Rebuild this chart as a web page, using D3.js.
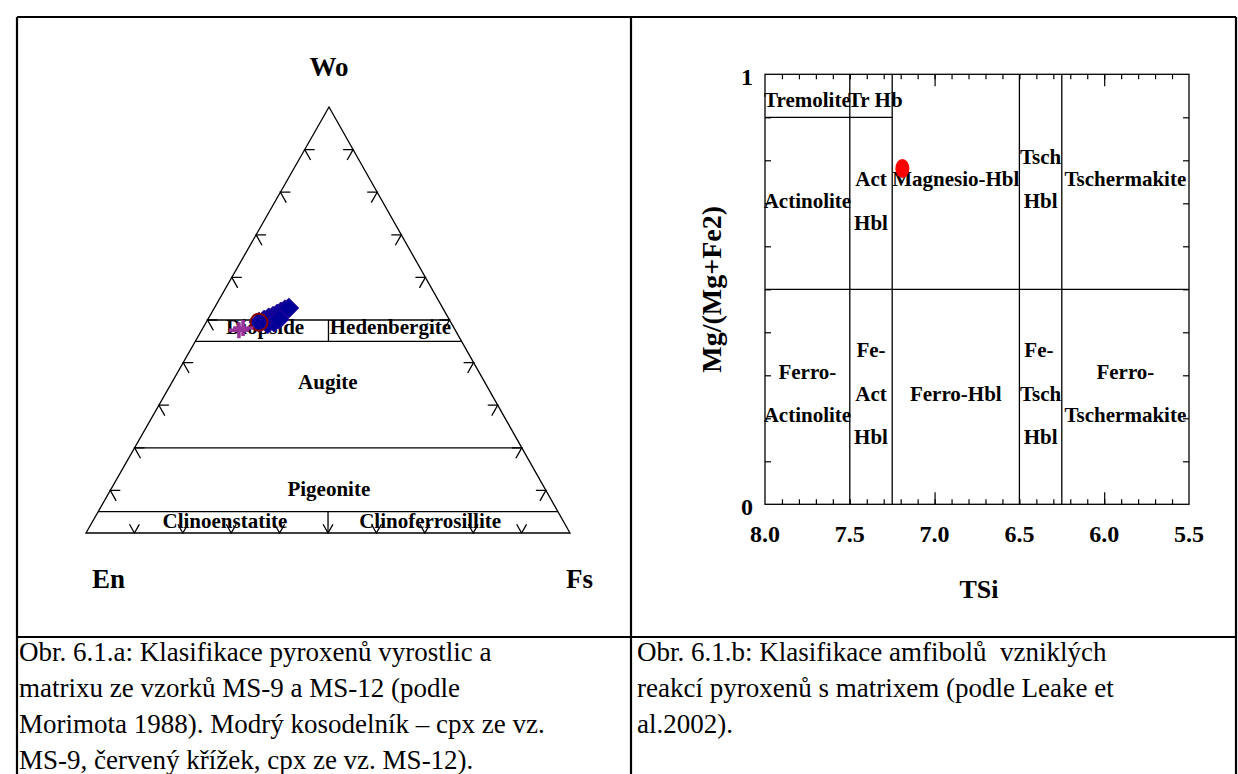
<!DOCTYPE html>
<html><head><meta charset="utf-8">
<script src="https://cdn.jsdelivr.net/npm/d3@7"></script>
<style>body{margin:0;background:#fff}svg{display:block}</style>
</head><body>
<svg id="c" width="1238" height="774"></svg>
<script>
// ---------------- DATA ----------------
// Pyroxene ternary (Morimoto 1988), values in % (Wo, En, Fs)
const cpxMS9Wo = [49.5, 50.0, 50.5, 50.9, 51.4, 51.9, 52.4, 52.8, 49.1, 49.5, 50.2];
const cpxMS9En = [39.6, 38.3, 37.1, 36.0, 34.9, 33.9, 32.8, 31.8, 38.0, 36.5, 35.1];
const cpxMS9Fs = [10.9, 11.7, 12.4, 13.1, 13.7, 14.2, 14.8, 15.4, 12.9, 14.0, 14.7];
const cpxMS12Wo = [47.6, 48.1];
const cpxMS12En = [44.7, 43.6];
const cpxMS12Fs = [7.7, 8.3];
const circleWo = [49.5], circleEn = [39.6], circleFs = [10.9];
const woBoundaries = [50, 45, 20, 5];
const ternTicks = [10, 20, 30, 40, 50, 60, 70, 80, 90];
const ternLabels = ["Diopside", "Hedenbergite", "Augite", "Pigeonite", "Clinoenstatite", "Clinoferrosillite"];
const ternLabelWo = [46.8, 46.8, 33.8, 8.7, 1.2, 1.2];
const ternLabelFs = [13.5, 39.4, 33.0, 45.8, 28.1, 70.5];

// Amphibole diagram (Leake et al. 2002)
const amphTSi = [7.19];
const amphMg = [0.781];
const xTickLabels = [8.0, 7.5, 7.0, 6.5, 6.0, 5.5];
const yTickLabels = [0, 1];
const tsiBoundaries = [7.5, 7.25, 6.5, 6.25];
const amphLabels = ["Tremolite", "Tr Hb", "Actinolite", "Act", "Hbl", "Magnesio-Hbl", "Tsch", "Hbl", "Tschermakite",
  "Ferro-", "Actinolite", "Fe-", "Act", "Hbl", "Ferro-Hbl", "Fe-", "Tsch", "Hbl", "Ferro-", "Tschermakite"];
const amphLabelX = [7.75, 7.35, 7.75, 7.375, 7.375, 6.875, 6.375, 6.375, 5.875,
  7.75, 7.75, 7.375, 7.375, 7.375, 6.875, 6.385, 6.375, 6.375, 5.875, 5.875];
const amphLabelY = [0.924, 0.924, 0.689, 0.740, 0.638, 0.740, 0.791, 0.689, 0.740,
  0.292, 0.191, 0.343, 0.240, 0.140, 0.240, 0.343, 0.240, 0.140, 0.292, 0.191];

const captionA = ["Obr. 6.1.a: Klasifikace pyroxenů vyrostlic a", "matrixu ze vzorků MS-9 a MS-12 (podle",
  "Morimota 1988). Modrý kosodelník – cpx ze vz.", "MS-9, červený křížek, cpx ze vz. MS-12)."];
const captionB = ["Obr. 6.1.b: Klasifikace amfibolů  vzniklých", "reakcí pyroxenů s matrixem (podle Leake et", "al.2002)."];

// ---------------- DRAW ----------------
const serif = "'Liberation Serif','Times New Roman',Times,serif";
const svg = d3.select("#c");
svg.append("rect").attr("width", 1238).attr("height", 774).attr("fill", "#fff");

// table frame
const tbl = svg.append("g").attr("stroke", "#000").attr("stroke-width", 2.2).attr("fill", "none");
tbl.append("line").attr("x1", 17).attr("y1", 17).attr("x2", 1236).attr("y2", 17);
tbl.append("line").attr("x1", 17).attr("y1", 17).attr("x2", 17).attr("y2", 780);
tbl.append("line").attr("x1", 1236).attr("y1", 17).attr("x2", 1236).attr("y2", 780);
tbl.append("line").attr("x1", 631).attr("y1", 17).attr("x2", 631).attr("y2", 780);
tbl.append("line").attr("x1", 17).attr("y1", 637).attr("x2", 1236).attr("y2", 637);

// ---- ternary ----
const tFs = d3.scaleLinear().domain([0, 100]).range([86, 570]);
const tWoX = d3.scaleLinear().domain([0, 100]).range([0, 243]);
const tWoY = d3.scaleLinear().domain([0, 100]).range([533, 107]);
function tp(wo, en, fs) { const s = (wo + en + fs) / 100; wo /= s; fs /= s; return [tFs(fs) + tWoX(wo), tWoY(wo)]; }
const PWo = tp(100, 0, 0), PEn = tp(0, 100, 0), PFs = tp(0, 0, 100);
function unit(a, b) { const dx = b[0] - a[0], dy = b[1] - a[1], l = Math.hypot(dx, dy); return [dx / l, dy / l]; }
const line = d3.line();
const tg = svg.append("g").attr("stroke", "#000").attr("stroke-width", 1.3).attr("fill", "none");
tg.append("path").attr("d", line([PEn, PFs, PWo]) + "Z");
woBoundaries.forEach(w => tg.append("path").attr("d", line([tp(w, 100 - w, 0), tp(w, 0, 100 - w)])));
// En = Fs dividers
tg.append("path").attr("d", line([tp(45, 27.5, 27.5), tp(50, 25, 25)]));
tg.append("path").attr("d", line([tp(0, 50, 50), tp(5, 47.5, 47.5)]));
// ticks
const dWoFs = unit(PWo, PFs), dWoEn = unit(PWo, PEn), dFsWo = unit(PFs, PWo), dEnWo = unit(PEn, PWo);
ternTicks.forEach(w => {
  const v = tp(w, 100 - w, 0);
  tg.append("path").attr("d", line([[v[0] + 10, v[1]], v, [v[0] + dWoFs[0] * 12, v[1] + dWoFs[1] * 12]]));
  const r = tp(w, 0, 100 - w);
  tg.append("path").attr("d", line([[r[0] - 10, r[1]], r, [r[0] + dWoEn[0] * 12, r[1] + dWoEn[1] * 12]]));
  const b = tp(0, 100 - w, w);
  tg.append("path").attr("d", line([[b[0] + dFsWo[0] * 10, b[1] + dFsWo[1] * 10], b, [b[0] + dEnWo[0] * 10, b[1] + dEnWo[1] * 10]]));
});
// labels
const tl = svg.append("g").attr("font-family", serif).attr("font-weight", "bold").attr("font-size", 21).attr("text-anchor", "middle");
ternLabels.forEach((t, i) => {
  const wo = ternLabelWo[i], fs = ternLabelFs[i];
  const p = tp(wo, 100 - wo - fs, fs);
  tl.append("text").attr("x", p[0]).attr("y", p[1]).text(t);
});
const vl = svg.append("g").attr("font-family", serif).attr("font-weight", "bold").attr("font-size", 27);
vl.append("text").attr("x", PWo[0]).attr("y", 76).attr("text-anchor", "middle").text("Wo");
vl.append("text").attr("x", 92).attr("y", 588).text("En");
vl.append("text").attr("x", 566).attr("y", 588).text("Fs");

// data points
const pts = svg.append("g");
cpxMS9Wo.forEach((w, i) => {
  const p = tp(w, cpxMS9En[i], cpxMS9Fs[i]), s = 10;
  pts.append("path").attr("d", line([[p[0], p[1] - s], [p[0] + s, p[1]], [p[0], p[1] + s], [p[0] - s, p[1]]]) + "Z")
    .attr("fill", "#000099").attr("stroke", "#330099").attr("stroke-width", 0.8);
});
circleWo.forEach((w, i) => {
  const p = tp(w, circleEn[i], circleFs[i]);
  pts.append("circle").attr("cx", p[0]).attr("cy", p[1]).attr("r", 8.5).attr("fill", "none").attr("stroke", "#8b0000").attr("stroke-width", 2);
});
cpxMS12Wo.forEach((w, i) => {
  const p = tp(w, cpxMS12En[i], cpxMS12Fs[i]);
  pts.append("path").attr("d", `M${p[0] - 10},${p[1]}H${p[0] + 10}M${p[0]},${p[1] - 8}V${p[1] + 8}`)
    .attr("stroke", "#993399").attr("stroke-width", 3.5).attr("fill", "none");
});

// ---- amphibole chart ----
const ax = d3.scaleLinear().domain([8.0, 5.5]).range([765, 1189]);
const ay = d3.scaleLinear().domain([0, 1]).range([504.3, 74.3]);
const ag = svg.append("g");
const minorX = d3.range(79, 55, -1).map(d => d / 10);
const majorX = [7.0, 6.0];
const yT = d3.range(1, 10).map(d => d / 10);
function axisG(gen, tr) {
  const g = ag.append("g").attr("transform", tr).call(gen);
  g.select(".domain").remove();
  g.selectAll("line").attr("stroke", "#000").attr("stroke-width", 1.2);
  g.selectAll("text").remove();
}
axisG(d3.axisTop(ax).tickValues(minorX).tickSize(5).tickFormat(""), `translate(0,${ay(0)})`);
axisG(d3.axisTop(ax).tickValues(majorX).tickSize(12).tickFormat(""), `translate(0,${ay(0)})`);
axisG(d3.axisBottom(ax).tickValues(minorX).tickSize(5).tickFormat(""), `translate(0,${ay(1)})`);
axisG(d3.axisBottom(ax).tickValues(majorX).tickSize(12).tickFormat(""), `translate(0,${ay(1)})`);
axisG(d3.axisRight(ay).tickValues(yT).tickSize(6).tickFormat(""), `translate(${ax(8)},0)`);
axisG(d3.axisLeft(ay).tickValues(yT).tickSize(6).tickFormat(""), `translate(${ax(5.5)},0)`);

const bl = ag.append("g").attr("stroke", "#000").attr("stroke-width", 1.3).attr("fill", "none");
bl.append("rect").attr("x", ax(8)).attr("y", ay(1)).attr("width", ax(5.5) - ax(8)).attr("height", ay(0) - ay(1));
tsiBoundaries.forEach(t => bl.append("line").attr("x1", ax(t)).attr("x2", ax(t)).attr("y1", ay(0)).attr("y2", ay(1)));
bl.append("line").attr("x1", ax(8)).attr("x2", ax(5.5)).attr("y1", ay(0.5)).attr("y2", ay(0.5));
bl.append("line").attr("x1", ax(8)).attr("x2", ax(7.25)).attr("y1", ay(0.9)).attr("y2", ay(0.9));

const al = ag.append("g").attr("font-family", serif).attr("font-weight", "bold").attr("font-size", 21).attr("text-anchor", "middle");
amphLabels.forEach((t, i) => al.append("text").attr("x", ax(amphLabelX[i])).attr("y", ay(amphLabelY[i])).text(t));

const tk = ag.append("g").attr("font-family", serif).attr("font-weight", "bold").attr("font-size", 24);
xTickLabels.forEach(v => tk.append("text").attr("x", ax(v)).attr("y", 542).attr("text-anchor", "middle").text(d3.format(".1f")(v)));
yTickLabels.forEach(v => tk.append("text").attr("x", 753).attr("y", ay(v)).attr("dy", "0.45em").attr("text-anchor", "end").text(v));

const at = ag.append("g").attr("font-family", serif).attr("font-weight", "bold").attr("text-anchor", "middle");
at.append("text").attr("font-size", 26).attr("x", (ax(8) + ax(5.5)) / 2 + 2).attr("y", 598).text("TSi");
at.append("text").attr("font-size", 28).attr("transform", `translate(721,${(ay(0) + ay(1)) / 2}) rotate(-90)`).text("Mg/(Mg+Fe2)");

amphTSi.forEach((t, i) => ag.append("ellipse").attr("cx", ax(t)).attr("cy", ay(amphMg[i])).attr("rx", 7).attr("ry", 9.5).attr("fill", "#ff0000"));

// captions
const cp = svg.append("g").attr("font-family", serif).attr("font-size", 27).attr("fill", "#000");
captionA.forEach((t, i) => cp.append("text").attr("x", 19).attr("y", 661 + i * 36).style("white-space", "pre").text(t));
captionB.forEach((t, i) => cp.append("text").attr("x", 637).attr("y", 661 + i * 36).style("white-space", "pre").text(t));
</script>
</body></html>
